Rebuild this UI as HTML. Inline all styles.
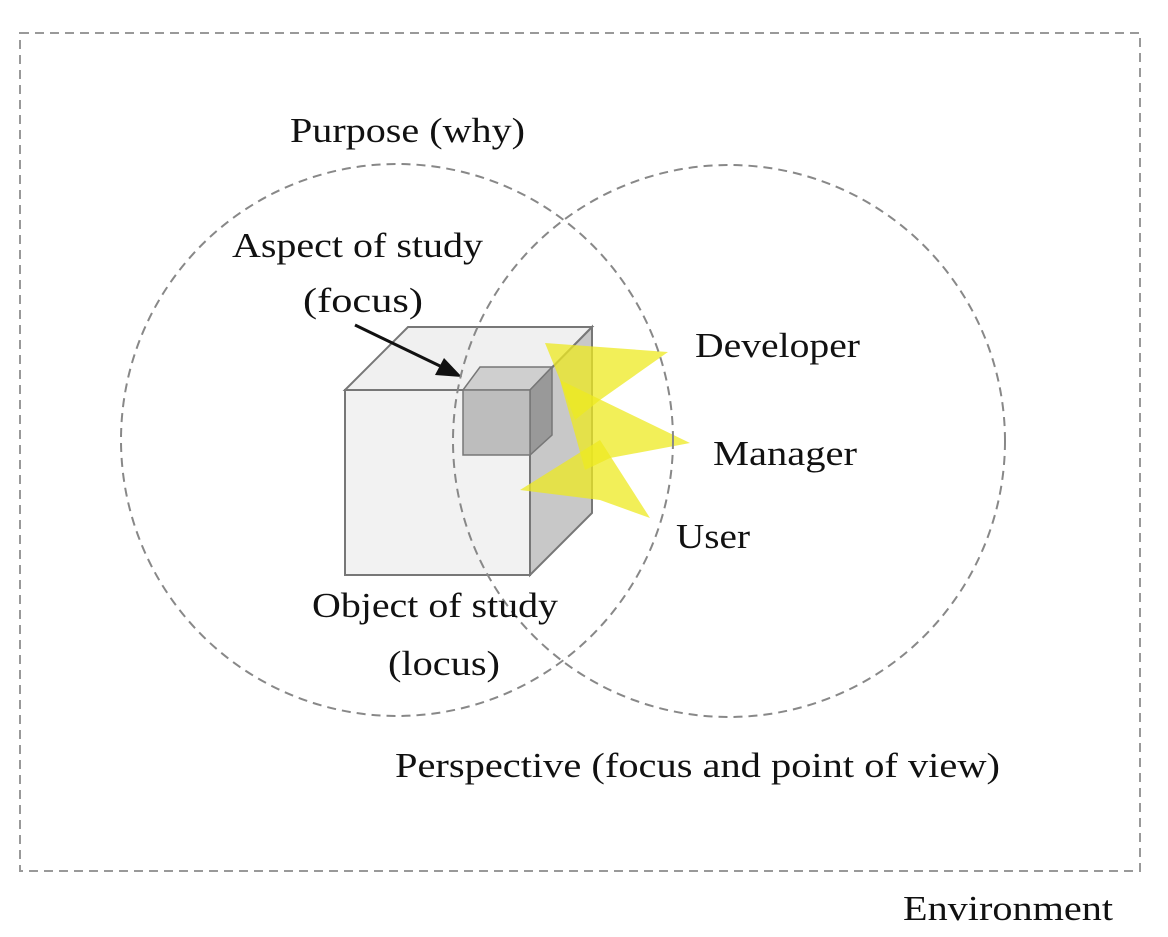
<!DOCTYPE html>
<html><head><style>
html,body{margin:0;padding:0;background:#fff;}
svg{display:block;}
text{font-family:"Liberation Serif",serif;font-size:35px;fill:#111;}
</style></head><body>
<svg width="1168" height="937" viewBox="0 0 1168 937">
<rect x="20" y="33" width="1120" height="838" fill="none" stroke="#999" stroke-width="2" stroke-dasharray="9,6"/>
<polygon points="345,390 408,327 592,327 530,390" fill="#f0f0f0" stroke="#777" stroke-width="2"/>
<polygon points="530,390 592,327 592,513 530,575" fill="#c8c8c8" stroke="#777" stroke-width="2"/>
<rect x="345" y="390" width="185" height="185" fill="#f2f2f2" stroke="#777" stroke-width="2"/>
<polygon points="463,390 480,367 552,367 530,390" fill="#cfcfcf" stroke="#777" stroke-width="1.5"/>
<polygon points="530,390 552,367 552,435 530,455" fill="#999" stroke="#777" stroke-width="1.5"/>
<rect x="463" y="390" width="67" height="65" fill="#bdbdbd" stroke="#777" stroke-width="1.5"/>
<g fill="#eeea20" fill-opacity="0.75">
<polygon points="545,343 668,352 600,400 575,420 560,380"/>
<polygon points="560,380 690,443 610,458 585,470"/>
<polygon points="520,490 600,440 650,518 600,500"/>
</g>
<line x1="355" y1="325" x2="440" y2="366" stroke="#111" stroke-width="3"/>
<polygon points="462,377 435,375 444,358" fill="#111"/>
<circle cx="397" cy="440" r="276" fill="none" stroke="#888" stroke-width="2" stroke-dasharray="9,6"/>
<circle cx="729" cy="441" r="276" fill="none" stroke="#888" stroke-width="2" stroke-dasharray="9,6"/>
<text x="290" y="142" textLength="235" lengthAdjust="spacingAndGlyphs">Purpose (why)</text>
<text x="232" y="257" textLength="251" lengthAdjust="spacingAndGlyphs">Aspect of study</text>
<text x="303" y="312" textLength="120" lengthAdjust="spacingAndGlyphs">(focus)</text>
<text x="695" y="357" textLength="165" lengthAdjust="spacingAndGlyphs">Developer</text>
<text x="713" y="465" textLength="144" lengthAdjust="spacingAndGlyphs">Manager</text>
<text x="676" y="548" textLength="74" lengthAdjust="spacingAndGlyphs">User</text>
<text x="312" y="617" textLength="246" lengthAdjust="spacingAndGlyphs">Object of study</text>
<text x="388" y="675" textLength="112" lengthAdjust="spacingAndGlyphs">(locus)</text>
<text x="395" y="777" textLength="605" lengthAdjust="spacingAndGlyphs">Perspective (focus and point of view)</text>
<text x="903" y="920" textLength="210" lengthAdjust="spacingAndGlyphs">Environment</text>
</svg>
</body></html>
